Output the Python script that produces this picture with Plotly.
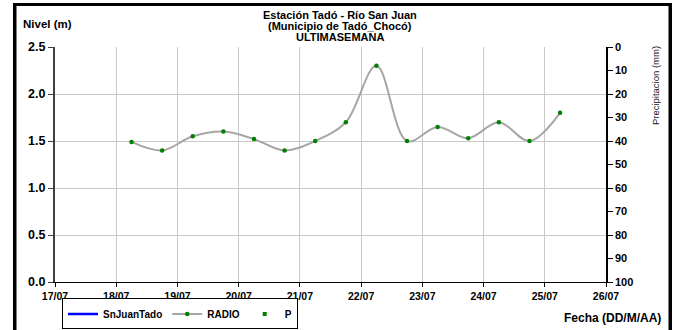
import plotly.graph_objects as go

# data
fechas = ['2012-07-18 06:00', '2012-07-18 18:00', '2012-07-19 06:00', '2012-07-19 18:00',
          '2012-07-20 06:00', '2012-07-20 18:00', '2012-07-21 06:00', '2012-07-21 18:00',
          '2012-07-22 06:00', '2012-07-22 18:00', '2012-07-23 06:00', '2012-07-23 18:00',
          '2012-07-24 06:00', '2012-07-24 18:00', '2012-07-25 06:00']
nivel_radio = [1.49, 1.40, 1.55, 1.60, 1.52, 1.40, 1.50, 1.70, 2.30, 1.50, 1.65, 1.53, 1.70, 1.50, 1.80]
nivel_sensor = [None]   # SnJuanTado, no data this week
precip = [None]         # P, no data this week

FONT = "Liberation Sans, Arial, sans-serif"

fig = go.Figure()

fig.add_trace(go.Scatter(x=[None], y=nivel_sensor, name="SnJuanTado", mode="lines",
                         line=dict(color="#0000FF", width=2.5)))
fig.add_trace(go.Scatter(x=fechas, y=nivel_radio, name="RADIO", mode="lines+markers",
                         line=dict(color="#A6A6A6", width=2, shape="spline", smoothing=1),
                         marker=dict(color="#008000", size=4.5)))
fig.add_trace(go.Scatter(x=[None], y=precip, name="P", mode="markers", yaxis="y2",
                         marker=dict(color="#008000", size=4, symbol="square")))

fig.update_layout(
    width=679, height=330,
    margin=dict(l=55, r=73, t=47, b=48, autoexpand=False),
    paper_bgcolor="white", plot_bgcolor="white",
    font=dict(family=FONT, size=11, color="black"),
    showlegend=True,
    legend=dict(orientation="h", x=0.0127, y=-0.07, xanchor="left", yanchor="top",
                bordercolor="black", borderwidth=1, bgcolor="white",
                font=dict(family=FONT, size=10, color="black", weight="bold"),
                itemwidth=30, tracegroupgap=0),
    xaxis=dict(type="date", range=["2012-07-17", "2012-07-26"], dtick=86400000,
               tick0="2012-07-17", tickformat="%d/%m",
               showgrid=True, gridcolor="#C8C8C8", gridwidth=1,
               showline=True, linecolor="black", linewidth=1,
               ticks="outside", ticklen=4, tickcolor="black",
               tickfont=dict(family=FONT, size=10.5, color="black", weight="bold")),
    yaxis=dict(range=[0, 2.5], dtick=0.5, tickformat=".1f",
               showgrid=True, gridcolor="#C8C8C8", gridwidth=1, zeroline=False,
               showline=True, linecolor="#404040", linewidth=2,
               ticks="outside", ticklen=5, tickcolor="#404040",
               tickfont=dict(family=FONT, size=12.5, color="black", weight="bold")),
    yaxis2=dict(range=[100, 0], dtick=10, overlaying="y", side="right",
                showgrid=False, zeroline=False,
                showline=True, linecolor="black", linewidth=1.5,
                ticks="outside", ticklen=5, tickcolor="black",
                tickfont=dict(family=FONT, size=11, color="black", weight="bold")),
)

# title lines, axis titles
titulo = ["Estación Tadó - Río San Juan", "(Municipio de Tadó_Chocó)", "ULTIMASEMANA"]
for i, linea in enumerate(titulo):
    fig.add_annotation(text=linea, xref="paper", yref="paper", x=0.517, y=(282 - 15 - 11 * i) / 235,
                       xanchor="center", yanchor="middle", showarrow=False,
                       font=dict(family=FONT, size=11, weight="bold"))
fig.add_annotation(text="Nivel (m)", xref="paper", yref="paper", x=-0.062, y=(282 - 24) / 235,
                   xanchor="left", yanchor="middle", showarrow=False,
                   font=dict(family=FONT, size=11.5, weight="bold"))
fig.add_annotation(text="Precipitacion (mm)", xref="paper", yref="paper", x=1.09, y=(282 - 44) / 235,
                   xanchor="center", yanchor="top", textangle=-90, showarrow=False,
                   font=dict(family=FONT, size=9.5, color="#202020"))
fig.add_annotation(text="Fecha (DD/M/AA)", xref="paper", yref="paper", x=(663 - 55) / 551, y=(282 - 318) / 235,
                   xanchor="right", yanchor="middle", showarrow=False,
                   font=dict(family=FONT, size=12, weight="bold"))

# outer black frame (left, top, right; the bottom edge is outside the picture)
def px_x(p):
    return (p - 55) / 551

def px_y(p):
    return (282 - p) / 235

negro = dict(color="black", width=0)
fig.add_shape(type="rect", xref="paper", yref="paper", x0=px_x(13), x1=px_x(16.5),
              y0=px_y(340), y1=px_y(3), fillcolor="black", line=negro)
fig.add_shape(type="rect", xref="paper", yref="paper", x0=px_x(13), x1=px_x(672),
              y0=px_y(6), y1=px_y(3), fillcolor="black", line=negro)
fig.add_shape(type="rect", xref="paper", yref="paper", x0=px_x(668.5), x1=px_x(672),
              y0=px_y(340), y1=px_y(3), fillcolor="black", line=negro)

# the page's default body margin would push the figure 8px off; the frame is
# also drawn as a page overlay in case the left edge of the svg gets covered
js = """
document.body.style.margin = '0';
var marco = document.createElement('div');
marco.style.cssText = 'position:absolute;left:13px;top:3px;width:653px;height:400px;' +
    'border:3px solid black;border-bottom:none;pointer-events:none;';
document.body.appendChild(marco);
"""
fig.write_html("out.html", config={"displayModeBar": False}, post_script=js)
